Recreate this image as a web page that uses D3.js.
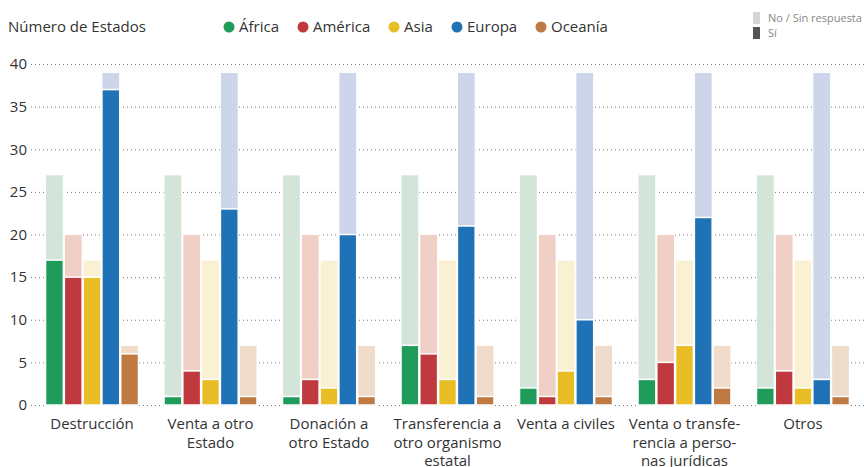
<!DOCTYPE html>
<html>
<head>
<meta charset="utf-8">
<script src="https://cdn.jsdelivr.net/npm/d3@7"></script>
<style>
  body { margin: 0; background: #fff; }
  svg { display: block; font-family: "Open Sans", sans-serif; }
</style>
</head>
<body>
<div id="chart"></div>
<script>
const Width = 864;
const Height = 467;

// Categories (x axis), each one split into lines
const Categories = [
  ['Destrucción'],
  ['Venta a otro', 'Estado'],
  ['Donación a', 'otro Estado'],
  ['Transferencia a', 'otro organismo', 'estatal'],
  ['Venta a civiles'],
  ['Venta o transfe-', 'rencia a perso-', 'nas jurídicas'],
  ['Otros']
];

const Regions = ['África', 'América', 'Asia', 'Europa', 'Oceanía'];
const RegionColors = ['#1f9c5a', '#c0393e', '#e9bd25', '#1f72b5', '#bf7942'];
const RegionLight = ['#d3e5d8', '#f0cfc6', '#faf0d2', '#cdd5ea', '#f0dccb'];

// total states per region
const Totals = [27, 20, 17, 39, 7];

// "Sí" values per region, one entry per category
const Africa = [17, 1, 1, 7, 2, 3, 2];
const America = [15, 4, 3, 6, 1, 5, 4];
const Asia = [15, 3, 2, 3, 4, 7, 2];
const Europa = [37, 23, 20, 21, 10, 22, 3];
const Oceania = [6, 1, 1, 1, 1, 2, 1];

const YTicks = [0, 5, 10, 15, 20, 25, 30, 35, 40];

const Series = [Africa, America, Asia, Europa, Oceania];

const svg = d3.select('#chart').append('svg')
  .attr('width', Width)
  .attr('height', Height);

const y = d3.scaleLinear().domain([0, 40]).range([405, 64]);

const x0 = d3.scaleBand()
  .domain(d3.range(Categories.length))
  .range([30, 865])
  .paddingInner(0.207)
  .paddingOuter(0.127);

const x1 = d3.scaleBand()
  .domain(d3.range(Regions.length))
  .range([0, x0.bandwidth()])
  .padding(0);

// grid lines + tick labels
const grid = svg.append('g');
grid.selectAll('line').data(YTicks).enter().append('line')
  .attr('x1', 31).attr('x2', Width)
  .attr('y1', d => y(d) + 0.5).attr('y2', d => y(d) + 0.5)
  .attr('stroke', '#777')
  .attr('stroke-width', 1)
  .attr('stroke-dasharray', '1,3');
grid.selectAll('text').data(YTicks).enter().append('text')
  .attr('x', 27)
  .attr('y', d => y(d))
  .attr('dy', '0.35em')
  .attr('text-anchor', 'end')
  .attr('fill', '#333')
  .style('font-size', '15px')
  .text(d => d);

// bars
const groups = svg.selectAll('.group').data(Categories).enter().append('g')
  .attr('class', 'group')
  .attr('transform', (d, i) => 'translate(' + x0(i) + ',0)');

groups.each(function (cat, ci) {
  const g = d3.select(this);
  Regions.forEach((r, ri) => {
    const bx = x1(ri);
    const bw = x1.bandwidth();
    // background total
    g.append('rect')
      .attr('x', bx + 0.5).attr('width', bw - 1)
      .attr('y', y(Totals[ri])).attr('height', y(0) - y(Totals[ri]))
      .attr('fill', RegionLight[ri])
      .attr('stroke', '#fff').attr('stroke-width', 1);
    const v = Series[ri][ci];
    g.append('rect')
      .attr('x', bx + 0.5).attr('width', bw - 1)
      .attr('y', y(v)).attr('height', y(0) - y(v))
      .attr('fill', RegionColors[ri])
      .attr('stroke', '#fff').attr('stroke-width', 1.5);
  });
});

// category labels
const labels = svg.selectAll('.xlabel').data(Categories).enter().append('text')
  .attr('class', 'xlabel')
  .attr('text-anchor', 'middle')
  .attr('fill', '#333')
  .style('font-size', '15px');
labels.selectAll('tspan').data((d, i) => d.map(t => ({ t: t, i: i }))).enter().append('tspan')
  .attr('x', d => x0(d.i) + x0.bandwidth() / 2)
  .attr('y', (d, j) => 429 + j * 18.5)
  .text(d => d.t);

// title
svg.append('text')
  .attr('x', 8).attr('y', 32)
  .attr('fill', '#333')
  .style('font-size', '15px')
  .text('Número de Estados');

// region legend
const legendX = [229, 303, 394, 457, 541];
const leg = svg.selectAll('.legend').data(Regions).enter().append('g')
  .attr('class', 'legend')
  .attr('transform', (d, i) => 'translate(' + legendX[i] + ',27)');
leg.append('circle').attr('r', 5.5).attr('fill', (d, i) => RegionColors[i]);
leg.append('text')
  .attr('x', 10).attr('dy', '0.35em')
  .attr('fill', '#333')
  .style('font-size', '15px')
  .text(d => d);

// right legend
const keyItems = [['No / Sin respuesta', '#d4d4d4'], ['Sí', '#555']];
const key = svg.selectAll('.key').data(keyItems).enter().append('g')
  .attr('class', 'key')
  .attr('transform', (d, i) => 'translate(753,' + (12 + i * 15) + ')');
key.append('rect').attr('width', 7).attr('height', 12).attr('fill', d => d[1]);
key.append('text')
  .attr('x', 15).attr('y', 6).attr('dy', '0.35em')
  .attr('fill', '#888')
  .style('font-size', '11px')
  .text(d => d[0]);
</script>
</body>
</html>
